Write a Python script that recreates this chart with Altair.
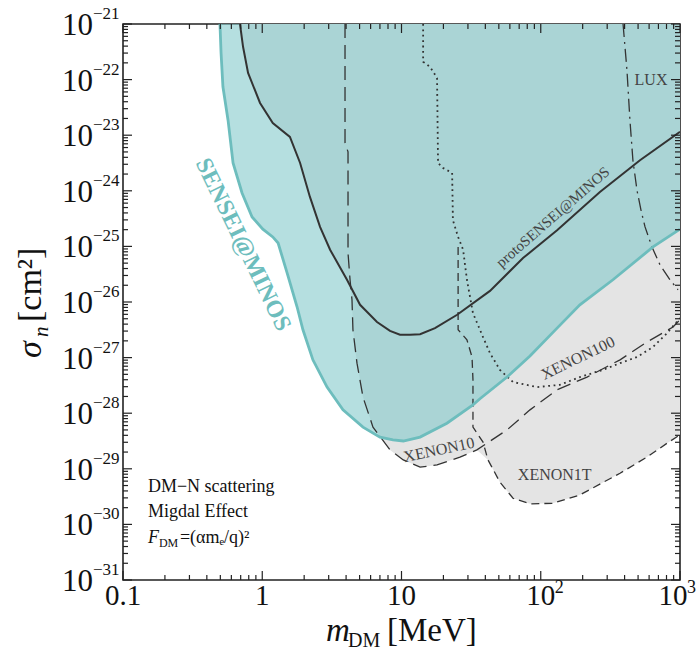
import altair as alt
import pandas as pd

# ---------------- data (mass in MeV, log10 of cross-section in cm^2) ----------------
sensei_m = [0.497, 0.506, 0.522, 0.568, 0.617, 0.716, 0.845, 1.01, 1.19, 1.30, 1.51, 1.78, 1.96,
            2.31, 2.92, 3.80, 5.29, 7.01, 8.69, 10.3, 13.6, 21.2, 32.6, 36.6, 57.3, 83.7, 131,
            191, 330, 640, 1000]
sensei_log = [-21, -21.52, -22.13, -22.73, -23.50, -24.04, -24.47, -24.69, -24.83, -24.94, -25.48,
              -26.09, -26.50, -27.04, -27.53, -27.94, -28.25, -28.43, -28.48, -28.50, -28.43,
              -28.18, -27.85, -27.74, -27.35, -26.97, -26.47, -26.05, -25.60, -25.01, -24.69]

proto_m = [0.692, 0.728, 0.791, 0.964, 1.19, 1.58, 1.87, 2.20, 2.60, 3.07, 4.06, 5.04, 6.67,
           8.27, 9.75, 11.5, 13.6, 17.4, 25.1, 43.2, 74.6, 131, 266, 516, 1000]
proto_log = [-21, -21.41, -21.88, -22.42, -22.78, -23.03, -23.50, -24.11, -24.65, -25.06, -25.60,
             -26.05, -26.36, -26.52, -26.59, -26.59, -26.58, -26.47, -26.23, -25.80, -25.21,
             -24.71, -24.02, -23.45, -22.94]

xenon10_m = [3.93, 3.93, 4.13, 4.13, 4.27, 4.41, 4.48, 4.79, 5.29, 6.24, 8.27, 10.3, 13.6, 18.0,
             26.3, 34.8, 41.1, 57.3, 83.7, 131, 215, 371, 579, 891, 1000]
xenon10_log = [-21, -23.14, -23.30, -25.12, -25.60, -25.96, -26.50, -27.10, -27.71, -28.25, -28.66,
               -28.84, -28.97, -28.93, -28.79, -28.66, -28.54, -28.30, -27.94, -27.58, -27.35,
               -27.04, -26.72, -26.45, -26.32]

xenon100_m = [14.3, 14.3, 16.0, 18.0, 18.3, 19.9, 23.1, 23.4, 25.5, 27.7, 29.5, 32.6, 38.5, 43.2,
              50.9, 63.2, 94.0, 137, 191, 280, 371, 491, 640, 807, 1000]
xenon100_log = [-21, -21.68, -21.77, -21.97, -23.50, -23.59, -23.68, -24.53, -24.83, -25.06, -25.60,
                -26.20, -26.63, -26.92, -27.22, -27.44, -27.53, -27.49, -27.35, -27.22, -27.10,
                -26.99, -26.81, -26.56, -26.29]

xenon1t_m = [25.5, 25.5, 29.5, 32.1, 32.6, 32.6, 38.5, 41.8, 50.9, 63.2, 83.7, 122, 191, 371,
             579, 807, 1000]
xenon1t_log = [-25.01, -26.50, -26.68, -26.99, -27.40, -28.25, -28.52, -28.84, -29.24, -29.53,
               -29.63, -29.62, -29.47, -29.08, -28.79, -28.54, -28.39]

lux_m = [390, 416, 437, 459, 491, 525, 561, 629, 718, 847, 968]
lux_log = [-21, -21.83, -22.73, -23.45, -23.99, -24.35, -24.65, -25.01, -25.33, -25.60, -25.78]

x_tick_values = [0.1, 1, 10, 100, 1000]
x_tick_base = ["0.1", "1", "10", "10", "10"]
x_tick_exp = ["", "", "", "2", "3"]
y_tick_exps = list(range(-31, -20))

# annotation labels: text, mass, log10 sigma, angle
labels_text = ["XENON10", "XENON100", "XENON1T", "LUX"]
labels_m = [18.6, 185, 126, 619]
labels_log = [-28.66, -27.01, -29.11, -22.01]
labels_angle = [348, 334, 0, 0]

# ---------------- chart ----------------
W, H = 557, 556
SERIF = "Liberation Serif"
TEAL = "#6dbdbd"
DARK = "#333333"

xs = alt.Scale(type="log", domain=[0.1, 1000], nice=False)
ys = alt.Scale(type="log", domain=[1e-31, 1e-21], nice=False)


def frame(m, lg):
    return pd.DataFrame({"m": m, "s": [10.0 ** v for v in lg], "top": 1e-21,
                         "i": list(range(len(m)))})


def X():
    return alt.X("m:Q", scale=xs, axis=None)


def Y():
    return alt.Y("s:Q", scale=ys, axis=None)


def strictly_increasing(m):
    out = []
    for v in m:
        if out and v <= out[-1]:
            v = out[-1] * 1.004
        out.append(v)
    return out


def area(m, lg, color, opacity=1.0):
    df = frame(strictly_increasing(m), lg)
    return alt.Chart(df).mark_area(color=color, opacity=opacity, clip=True).encode(
        x=X(), y=Y(), y2=alt.Y2("top:Q"))


def line(m, lg, color, width, dash=None):
    kw = dict(color=color, strokeWidth=width, clip=True)
    if dash:
        kw["strokeDash"] = dash
    return alt.Chart(frame(m, lg)).mark_line(**kw).encode(
        x=X(), y=Y(), order=alt.Order("i:Q"))


# excluded region envelope: XENON10 below ~35 MeV, XENON1T above
env_m = [m for m in xenon10_m if m <= 35] + [m for m in xenon1t_m if m >= 40]
env_log = [l for m, l in zip(xenon10_m, xenon10_log) if m <= 35] + \
          [l for m, l in zip(xenon1t_m, xenon1t_log) if m >= 40]

layers = [
    area(proto_m, proto_log, "#e4e4e4"),
    area(env_m, env_log, "#e4e4e4"),
    area(sensei_m, sensei_log, "#84cacb", 0.6),
    line(xenon10_m, xenon10_log, DARK, 1.3, [14, 7]),
    line(xenon100_m, xenon100_log, DARK, 1.8, [1.8, 3.6]),
    line(xenon1t_m, xenon1t_log, DARK, 1.3, [8, 5]),
    line(lux_m, lux_log, DARK, 1.3, [13, 5, 2, 5]),
    line(proto_m, proto_log, DARK, 2.0),
    line(sensei_m, sensei_log, TEAL, 2.8),
]

# ---- ticks (inward, mirrored) ----
x_major = x_tick_values
x_minor = [k * 10.0 ** d for d in range(-1, 3) for k in range(2, 10)]
y_major = [10.0 ** e for e in y_tick_exps]
y_minor = [k * 10.0 ** e for e in range(-31, -21) for k in range(2, 10)]

for vals, L in [(x_major, 9), (x_minor, 5)]:
    dfx = pd.DataFrame({"m": vals})
    layers.append(alt.Chart(dfx).mark_rule(color="#222", strokeWidth=1.2).encode(
        x=X(), y=alt.value(H), y2=alt.value(H - L)))
    layers.append(alt.Chart(dfx).mark_rule(color="#222", strokeWidth=1.2).encode(
        x=X(), y=alt.value(0), y2=alt.value(L)))
for vals, L in [(y_major, 9), (y_minor, 5)]:
    dfy = pd.DataFrame({"s": vals})
    layers.append(alt.Chart(dfy).mark_rule(color="#222", strokeWidth=1.2).encode(
        y=Y(), x=alt.value(0), x2=alt.value(L)))
    layers.append(alt.Chart(dfy).mark_rule(color="#222", strokeWidth=1.2).encode(
        y=Y(), x=alt.value(W), x2=alt.value(W - L)))

# ---- tick labels ----
ylab = pd.DataFrame({"s": y_major, "base": ["10"] * len(y_major),
                     "exp": ["\u2212" + str(-e) for e in y_tick_exps]})
layers.append(alt.Chart(ylab).mark_text(font=SERIF, fontSize=31, align="right",
                                        baseline="middle", color="#111", dy=2).encode(
    y=Y(), x=alt.value(-30), text="base:N"))
layers.append(alt.Chart(ylab).mark_text(font=SERIF, fontSize=17, align="left",
                                        baseline="middle", color="#111", dy=-10).encode(
    y=Y(), x=alt.value(-30), text="exp:N"))

xlab = pd.DataFrame({"m": x_tick_values, "base": x_tick_base, "exp": x_tick_exp})
for sub, shift in [(xlab.iloc[:4], 0), (xlab.iloc[4:], -7)]:
    layers.append(alt.Chart(sub).mark_text(font=SERIF, fontSize=29, align="center",
                                           baseline="alphabetic", color="#111", dx=shift).encode(
        x=X(), y=alt.value(H + 25), text="base:N"))
    layers.append(alt.Chart(sub).mark_text(font=SERIF, fontSize=18, align="left",
                                           baseline="alphabetic", color="#111", dx=14 + shift,
                                           dy=-12).encode(
        x=X(), y=alt.value(H + 25), text="exp:N"))

# ---- axis titles ----
one = pd.DataFrame({"a": [0]})


def free_text(txt, x, y, size, italic=False, angle=0, align="left", baseline="alphabetic"):
    kw = dict(font=SERIF, fontSize=size, align=align, baseline=baseline, color="#111")
    if italic:
        kw["fontStyle"] = "italic"
    if angle:
        kw["angle"] = angle
    return alt.Chart(one).mark_text(**kw).encode(
        x=alt.value(x), y=alt.value(y), text=alt.value(txt))


layers += [
    free_text("m", 203, 617, 33, italic=True),
    free_text("DM", 225, 623, 20),
    free_text("[MeV]", 264, 617, 33),
    free_text("\u03c3", -82, 334, 34, italic=True, angle=270),
    free_text("n", -75, 313, 21, italic=True, angle=270),
    free_text("[cm\u00b2]", -82, 298, 34, angle=270),
]

# ---- curve annotations ----
for t, m, lg, ang in zip(labels_text, labels_m, labels_log, labels_angle):
    kw = dict(font=SERIF, fontSize=16, color="#444", align="center", baseline="middle")
    if ang:
        kw["angle"] = ang
    layers.append(alt.Chart(pd.DataFrame({"m": [m], "s": [10.0 ** lg], "t": [t]}))
                  .mark_text(**kw).encode(x=X(), y=Y(), text="t:N"))

layers.append(alt.Chart(pd.DataFrame({"m": [122], "s": [10.0 ** -24.47], "t": ["protoSENSEI@MINOS"]}))
              .mark_text(font=SERIF, fontSize=15, color="#444", align="center",
                         baseline="middle", angle=319).encode(x=X(), y=Y(), text="t:N"))
layers.append(alt.Chart(pd.DataFrame({"m": [0.727], "s": [10.0 ** -24.97], "t": ["SENSEI@MINOS"]}))
              .mark_text(font=SERIF, fontSize=24, fontWeight="bold", color=TEAL, align="center",
                         baseline="middle", angle=64).encode(x=X(), y=Y(), text="t:N"))

# ---- info text block ----
info = pd.DataFrame({"m": [0.151, 0.151], "s": [10.0 ** -29.33, 10.0 ** -29.78],
                     "t": ["DM\u2212N scattering", "Migdal Effect"]})
layers.append(alt.Chart(info).mark_text(font=SERIF, fontSize=18, color="#111", align="left",
                                        baseline="middle").encode(x=X(), y=Y(), text="t:N"))
fdm = pd.DataFrame({"m": [0.151] * 3, "s": [10.0 ** -30.24] * 3,
                    "t": ["F", "DM", "=(\u03b1m\u2091/q)\u00b2"],
                    "dx": [0, 11, 32], "dy": [0, 5, 0], "size": [18, 12, 18],
                    "style": ["italic", "normal", "normal"]})
for _, r in fdm.iterrows():
    layers.append(alt.Chart(fdm[fdm["t"] == r["t"]]).mark_text(
        font=SERIF, fontSize=int(r["size"]), fontStyle=r["style"], color="#111", align="left",
        baseline="middle", dx=int(r["dx"]), dy=int(r["dy"])).encode(x=X(), y=Y(), text="t:N"))

chart = alt.layer(*layers).properties(
    width=W, height=H,
    padding={"left": 123, "top": 24, "right": 17, "bottom": 73},
    autosize=alt.AutoSizeParams(type="none"),
).configure_view(stroke="#222", strokeWidth=1.6)

chart.save("out.html", embed_options={"renderer": "svg", "actions": False})
